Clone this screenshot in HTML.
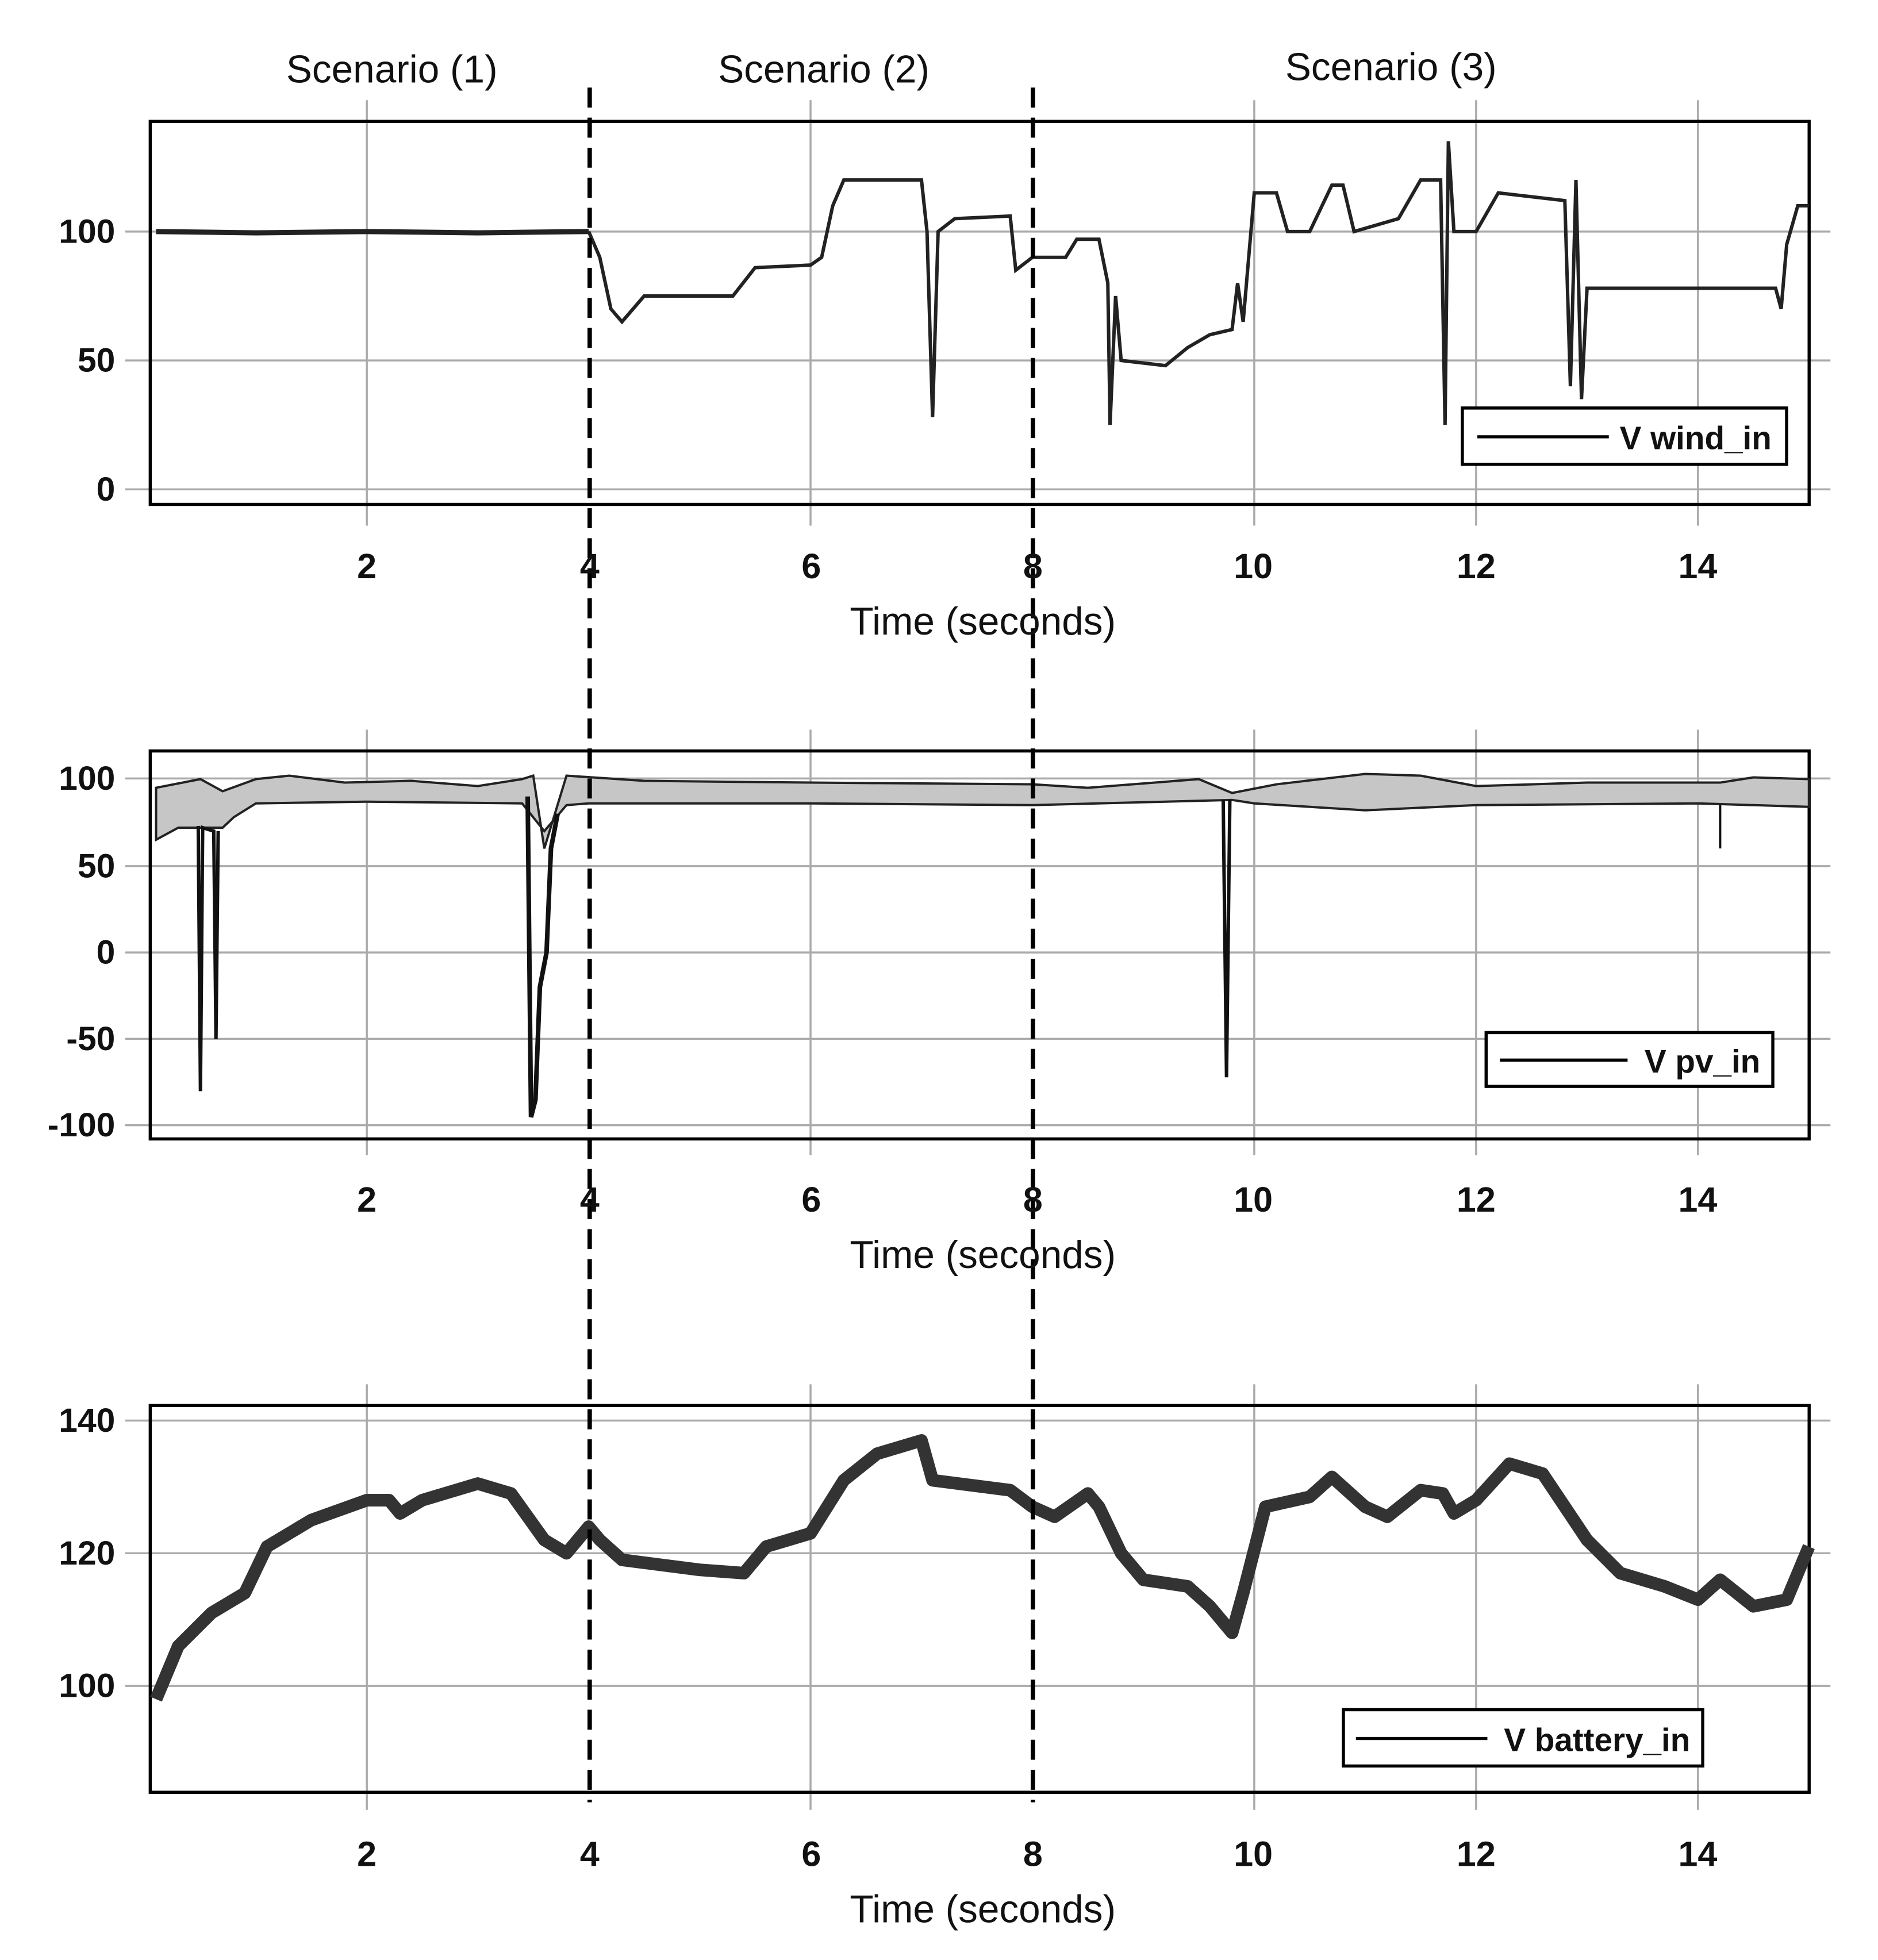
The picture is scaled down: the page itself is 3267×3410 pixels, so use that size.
<!DOCTYPE html>
<html><head><style>html,body{margin:0;padding:0;background:#fff}svg{display:block}</style></head>
<body>
<svg width="3267" height="3410" viewBox="0 0 1500 1566" preserveAspectRatio="none" xmlns="http://www.w3.org/2000/svg" font-family="Liberation Sans, sans-serif">
<rect width="1500" height="1566" fill="#fff"/>
<g stroke="#aaa" stroke-width="1.6">
<g>
<line x1="293" y1="80" x2="293" y2="420"/><line x1="647.4" y1="80" x2="647.4" y2="420"/><line x1="1001.8" y1="80" x2="1001.8" y2="420"/><line x1="1179" y1="80" x2="1179" y2="420"/><line x1="1356.2" y1="80" x2="1356.2" y2="420"/>
</g>
<g transform="translate(0,503)"><line x1="293" y1="80" x2="293" y2="420"/><line x1="647.4" y1="80" x2="647.4" y2="420"/><line x1="1001.8" y1="80" x2="1001.8" y2="420"/><line x1="1179" y1="80" x2="1179" y2="420"/><line x1="1356.2" y1="80" x2="1356.2" y2="420"/></g>
<g transform="translate(0,1026)"><line x1="293" y1="80" x2="293" y2="420"/><line x1="647.4" y1="80" x2="647.4" y2="420"/><line x1="1001.8" y1="80" x2="1001.8" y2="420"/><line x1="1179" y1="80" x2="1179" y2="420"/><line x1="1356.2" y1="80" x2="1356.2" y2="420"/></g>
<line x1="100" y1="185" x2="1462" y2="185"/><line x1="100" y1="288" x2="1462" y2="288"/><line x1="100" y1="391" x2="1462" y2="391"/>
<line x1="100" y1="622" x2="1462" y2="622"/><line x1="100" y1="692" x2="1462" y2="692"/><line x1="100" y1="761" x2="1462" y2="761"/><line x1="100" y1="830" x2="1462" y2="830"/><line x1="100" y1="899" x2="1462" y2="899"/>
<line x1="100" y1="1135" x2="1462" y2="1135"/><line x1="100" y1="1241" x2="1462" y2="1241"/><line x1="100" y1="1347" x2="1462" y2="1347"/>
</g>
<g fill="none" stroke="#000" stroke-width="2.5">
<rect x="120" y="97" width="1325" height="306"/>
<rect x="120" y="600" width="1325" height="310"/>
<rect x="120" y="1123" width="1325" height="309"/>
</g>
<g transform="matrix(88.6 0 0 -2.06 115.8 391)">
<polyline vector-effect="non-scaling-stroke" fill="none" stroke="#222" stroke-width="9" points="0.1,100 1,99.5 2,100 3,99.5 4,100"/>
<polyline vector-effect="non-scaling-stroke" fill="none" stroke="#222" stroke-width="6" points="4,100 4.1,90 4.2,70 4.3,65 4.5,75 5.3,75 5.5,86 6.0,87 6.1,90 6.2,110 6.3,120 7.0,120 7.05,100 7.1,28 7.15,100 7.3,105 7.8,106 7.85,85 8.0,90 8.3,90 8.4,97 8.6,97 8.68,80 8.7,25 8.75,75 8.8,50 9.2,48 9.4,55 9.6,60 9.8,62 9.85,80 9.9,65 10.0,115 10.2,115 10.3,100 10.5,100 10.7,118 10.8,118 10.9,100 11.3,105 11.5,120 11.68,120 11.72,25 11.75,135 11.8,100 12.0,100 12.2,115 12.8,112 12.85,40 12.9,120 12.95,35 13.0,78 14.7,78 14.75,70 14.8,95 14.9,110 15,110"/>
</g>
<g transform="matrix(88.6 0 0 -1.385 115.8 761)">
<polygon vector-effect="non-scaling-stroke" fill="#c6c6c6" stroke="#222" stroke-width="4" points="0.1,95 0.5,100 0.7,93 1,100 1.3,102 1.8,98 2.4,99 3,96 3.4,100 3.5,102 3.6,60 3.8,102 4.5,99 6,98 8,97 8.5,95 9.5,100 9.8,92 10.2,97 11,103 11.5,102 12,96 13,98 14.2,98 14.5,101 15,100 15,84 14,86 12,85 11,82 10,86 9.8,88 8,85 6,86 4,86 3.8,85 3.6,70 3.4,86 2,87 1,86 0.8,78 0.7,72 0.3,72 0.1,65"/>
<polyline vector-effect="non-scaling-stroke" fill="none" stroke="#111" stroke-width="6" points="0.48,73 0.5,-80 0.52,72 0.62,70 0.64,-50 0.66,70"/>
<polyline vector-effect="non-scaling-stroke" fill="none" stroke="#111" stroke-width="8" points="3.45,90 3.48,-95 3.52,-85 3.56,-20 3.62,0 3.66,60 3.72,80"/>
<polyline vector-effect="non-scaling-stroke" fill="none" stroke="#111" stroke-width="6" points="9.72,88 9.75,-72 9.78,88"/>
<polyline vector-effect="non-scaling-stroke" fill="none" stroke="#111" stroke-width="4" points="14.2,85 14.2,60"/>
</g>
<g transform="matrix(88.6 0 0 -5.3 115.8 1877)">
<polyline vector-effect="non-scaling-stroke" fill="none" stroke="#333" stroke-width="22" stroke-linejoin="round" points="0.1,98 0.3,106 0.6,111 0.9,114 1.1,121 1.5,125 2,128 2.2,128 2.3,126 2.5,128 3,130.5 3.3,129 3.6,122 3.8,120 4,124 4.1,122 4.3,119 5,117.5 5.4,117 5.6,121 6,123 6.3,131 6.6,135 7,137 7.1,131 7.8,129.5 8,127 8.2,125.5 8.5,129 8.6,127 8.8,120 9,116 9.4,115 9.6,112 9.8,108 9.9,114 10.1,127 10.5,128.5 10.7,131.5 11,127 11.2,125.5 11.5,129.5 11.7,129 11.8,126 12,128 12.3,133.5 12.6,132 13,122 13.3,117 13.7,115 14,113 14.2,116 14.5,112 14.8,113 15,121"/>
</g>
<g stroke="#000" stroke-width="3.5" stroke-dasharray="16,8">
<line x1="471" y1="70" x2="471" y2="1440"/><line x1="825" y1="70" x2="825" y2="1440"/>
</g>
<g fill="#fff" stroke="#000" stroke-width="2.5">
<rect x="1168" y="326" width="259" height="45"/>
<rect x="1187" y="825" width="229" height="43"/>
<rect x="1073" y="1366" width="287" height="45"/>
</g>
<g stroke="#000" stroke-width="2.5">
<line x1="1180" y1="349" x2="1285" y2="349"/><line x1="1198" y1="847" x2="1300" y2="847"/><line x1="1083" y1="1389" x2="1188" y2="1389"/>
</g>
<g font-size="26" fill="#111" font-weight="bold">
<text x="1415" y="359" text-anchor="end">V wind_in</text>
<text x="1406" y="857" text-anchor="end">V pv_in</text>
<text x="1350" y="1399" text-anchor="end">V battery_in</text>
</g>
<g font-size="27" fill="#111" font-weight="bold" text-anchor="end">
<text x="92" y="194">100</text><text x="92" y="297">50</text><text x="92" y="400">0</text>
<text x="92" y="631">100</text><text x="92" y="701">50</text><text x="92" y="770">0</text><text x="92" y="839">-50</text><text x="92" y="908">-100</text>
<text x="92" y="1144">140</text><text x="92" y="1250">120</text><text x="92" y="1356">100</text>
</g>
<g font-size="28" fill="#111" font-weight="bold" text-anchor="middle">
<text x="293" y="462">2</text><text x="471" y="462">4</text><text x="648" y="462">6</text><text x="825" y="462">8</text><text x="1001" y="462">10</text><text x="1179" y="462">12</text><text x="1356" y="462">14</text>
<text x="293" y="968">2</text><text x="471" y="968">4</text><text x="648" y="968">6</text><text x="825" y="968">8</text><text x="1001" y="968">10</text><text x="1179" y="968">12</text><text x="1356" y="968">14</text>
<text x="293" y="1491">2</text><text x="471" y="1491">4</text><text x="648" y="1491">6</text><text x="825" y="1491">8</text><text x="1001" y="1491">10</text><text x="1179" y="1491">12</text><text x="1356" y="1491">14</text>
</g>
<g font-size="31" fill="#111" text-anchor="middle">
<text x="785" y="507">Time (seconds)</text>
<text x="785" y="1013">Time (seconds)</text>
<text x="785" y="1536">Time (seconds)</text>
<text x="313" y="66">Scenario (1)</text>
<text x="658" y="66">Scenario (2)</text>
<text x="1111" y="64">Scenario (3)</text>
</g>
</svg>
</body></html>
